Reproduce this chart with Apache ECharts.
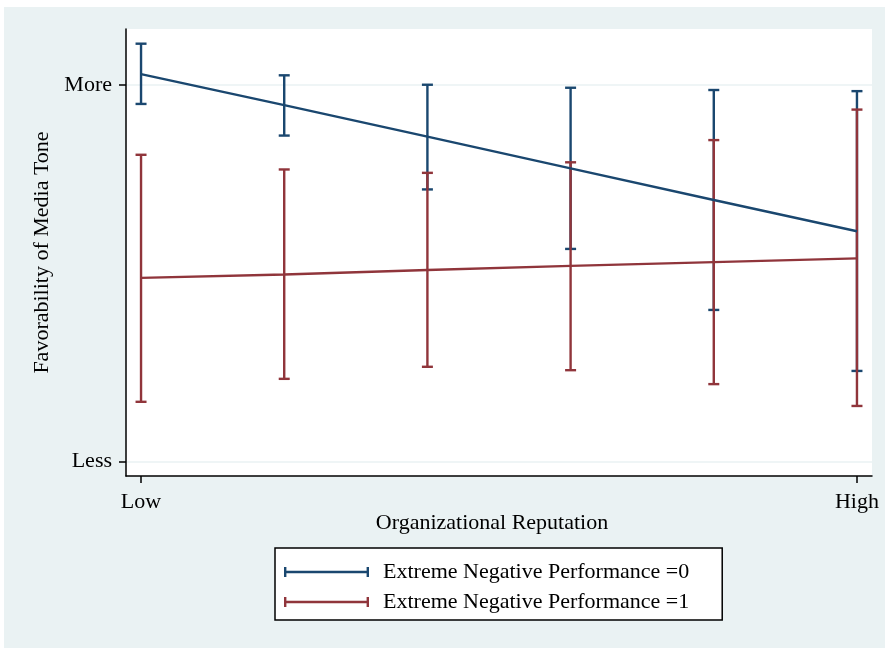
<!DOCTYPE html>
<html>
<head>
<meta charset="utf-8">
<script src="https://cdn.jsdelivr.net/npm/echarts@6/dist/echarts.min.js"></script>
<style>
  html, body { margin: 0; padding: 0; background: #fff; }
  #bg { position: absolute; left: 4px; top: 7px; right: 3px; bottom: 1px; background: #eaf2f3; }
  #chart { position: absolute; left: 0; top: 0; width: 888px; height: 649px; }
</style>
</head>
<body>
<div id="bg"></div>
<div id="chart"></div>
<script>
// reputation levels (Low .. High), y scale: Less = 0, More = 1
const xLevels = [0, 1, 2, 3, 4, 5]
const xTickValues = [0, 5]
const xTickLabels = ['Low', 'High']
const yTickValues = [0, 1]
const yTickLabels = ['Less', 'More']

const seriesNames = ['Extreme Negative Performance =0', 'Extreme Negative Performance =1']
const blueMean = [1.029, 0.947, 0.863, 0.779, 0.695, 0.612]
const blueLow = [0.950, 0.866, 0.723, 0.565, 0.403, 0.241]
const blueHigh = [1.110, 1.026, 1.001, 0.993, 0.987, 0.984]
const redMean = [0.488, 0.497, 0.509, 0.520, 0.530, 0.540]
const redLow = [0.159, 0.220, 0.252, 0.243, 0.206, 0.148]
const redHigh = [0.815, 0.776, 0.767, 0.795, 0.854, 0.935]

const COLORS = ['#1a476f', '#90353b']
const FONT = "'Liberation Serif', 'Times New Roman', serif"

const chart = echarts.init(document.getElementById('chart'))

// vertical error bar with caps
function capBar(color) {
  return (params, api) => {
    const top = api.coord([api.value(0), api.value(2)])
    const bot = api.coord([api.value(0), api.value(1)])
    const hw = 5.5
    const style = { stroke: color, lineWidth: 2.4 }
    return {
      type: 'group',
      children: [
        { type: 'line', shape: { x1: top[0], y1: top[1], x2: bot[0], y2: bot[1] }, style },
        { type: 'line', shape: { x1: top[0] - hw, y1: top[1], x2: top[0] + hw, y2: top[1] }, style },
        { type: 'line', shape: { x1: bot[0] - hw, y1: bot[1], x2: bot[0] + hw, y2: bot[1] }, style }
      ]
    }
  }
}

const legendIcon = 'path://M0,0h2.4v10h-2.4z M2.4,3.8h80.2v2.4h-80.2z M82.6,0h2.4v10h-2.4z'

const option = {
  backgroundColor: 'transparent',
  animation: false,
  textStyle: { fontFamily: FONT },
  grid: {
    left: 126, right: 16, top: 29, bottom: 173,
    show: true, backgroundColor: '#fff', borderWidth: 0,
    outerBoundsMode: 'none'
  },
  legend: {
    orient: 'vertical',
    left: 275,
    top: 548,
    padding: [13, 33, 7, 9],
    itemGap: 8,
    itemWidth: 85,
    itemHeight: 10,
    icon: legendIcon,
    backgroundColor: '#fff',
    borderColor: '#000',
    borderWidth: 1.5,
    borderRadius: 0,
    textStyle: { fontFamily: FONT, fontSize: 22, color: '#000', padding: [0, 0, 0, 9] },
    data: seriesNames.map((n, i) => ({ name: n, itemStyle: { color: COLORS[i] } }))
  },
  xAxis: {
    type: 'value',
    min: -0.105,
    max: 5.105,
    name: 'Organizational Reputation',
    nameLocation: 'middle',
    nameGap: 36,
    nameMoveOverlap: false,
    nameTextStyle: { fontFamily: FONT, fontSize: 22, color: '#000', padding: [0, 14, 0, 0] },
    axisLine: { show: true, onZero: false, lineStyle: { color: '#000', width: 1.5 } },
    axisTick: { show: true, length: 7, customValues: xTickValues, lineStyle: { color: '#000', width: 1.5 } },
    axisLabel: {
      customValues: xTickValues,
      margin: 15,
      fontFamily: FONT, fontSize: 22, color: '#000',
      formatter: (v) => xTickLabels[xTickValues.indexOf(v)]
    },
    splitLine: { show: false }
  },
  yAxis: {
    type: 'value',
    min: -0.038,
    max: 1.149,
    name: 'Favorability of Media Tone',
    nameLocation: 'middle',
    nameGap: 73,
    nameMoveOverlap: false,
    nameTextStyle: { fontFamily: FONT, fontSize: 22, color: '#000' },
    axisLine: { show: true, onZero: false, lineStyle: { color: '#000', width: 1.5 } },
    axisTick: { show: true, length: 7, customValues: yTickValues, lineStyle: { color: '#000', width: 1.5 } },
    axisLabel: {
      customValues: yTickValues,
      margin: 14,
      fontFamily: FONT, fontSize: 22, color: '#000',
      formatter: (v) => yTickLabels[yTickValues.indexOf(v)]
    },
    splitLine: { show: true, lineStyle: { color: '#eaf2f3', width: 1.5 } }
  },
  series: [
    {
      name: seriesNames[0],
      type: 'custom',
      renderItem: capBar(COLORS[0]),
      itemStyle: { color: COLORS[0] },
      encode: { x: 0, y: [1, 2] },
      data: xLevels.map((x, i) => [x, blueLow[i], blueHigh[i]]),
      z: 2
    },
    {
      name: seriesNames[1],
      type: 'custom',
      renderItem: capBar(COLORS[1]),
      itemStyle: { color: COLORS[1] },
      encode: { x: 0, y: [1, 2] },
      data: xLevels.map((x, i) => [x, redLow[i], redHigh[i]]),
      z: 3
    },
    {
      name: seriesNames[0],
      type: 'line',
      symbol: 'none',
      lineStyle: { color: COLORS[0], width: 2.4 },
      itemStyle: { color: COLORS[0] },
      data: xLevels.map((x, i) => [x, blueMean[i]]),
      z: 4
    },
    {
      name: seriesNames[1],
      type: 'line',
      symbol: 'none',
      lineStyle: { color: COLORS[1], width: 2.4 },
      itemStyle: { color: COLORS[1] },
      data: xLevels.map((x, i) => [x, redMean[i]]),
      z: 4
    }
  ]
}

chart.setOption(option)
</script>
</body>
</html>
